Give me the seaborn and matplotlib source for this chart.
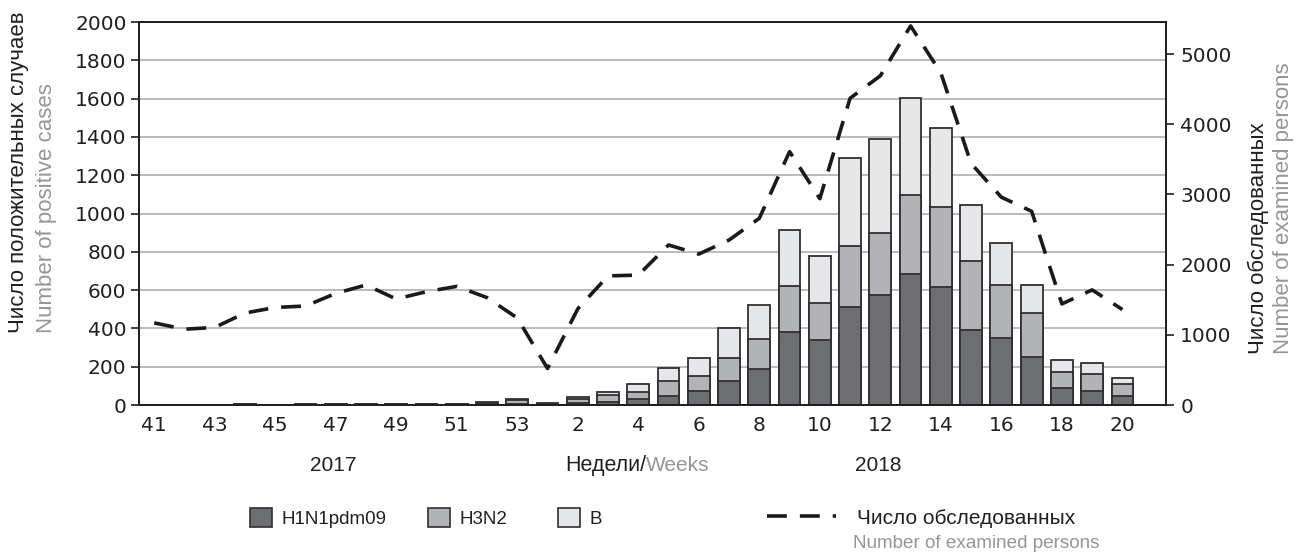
import matplotlib
matplotlib.use('Agg')
import matplotlib.pyplot as plt
import matplotlib.patches as mpatches
from matplotlib.lines import Line2D
import seaborn as sns
import numpy as np
import pandas as pd

# weeks 41-53 of 2017, then 1-20 of 2018
weeks = list(range(41, 54)) + list(range(1, 21))
h1n1 = [1, 1, 1, 2, 1, 2, 2, 3, 3, 4, 3, 8, 4, 3, 10, 15, 31, 49, 72, 124, 188,
        381, 341, 513, 574, 684, 618, 392, 351, 249, 90, 75, 49]
h3n2 = [1, 1, 1, 1, 1, 1, 1, 2, 2, 2, 2, 5, 22, 3, 22, 35, 35, 78, 79, 123, 155,
        242, 193, 317, 322, 413, 418, 362, 276, 233, 84, 87, 59]
flu_b = [0, 0, 0, 1, 0, 1, 1, 1, 1, 1, 1, 2, 4, 2, 12, 16, 42, 68, 93, 157, 179,
         291, 244, 460, 491, 504, 412, 292, 217, 145, 61, 59, 35]
examined = [1170, 1080, 1105, 1310, 1390, 1410, 1590, 1710, 1510, 1615, 1690,
            1530, 1240, 520, 1370, 1840, 1850, 2280, 2150, 2350, 2660, 3610,
            2940, 4370, 4690, 5400, 4730, 3440, 2960, 2760, 1440, 1640, 1360]
tick_weeks = [41, 43, 45, 47, 49, 51, 53, 2, 4, 6, 8, 10, 12, 14, 16, 18, 20]

df = pd.DataFrame({'week': [str(w) for w in weeks], 'h1n1': h1n1,
                   'h3n2': h3n2, 'b': flu_b, 'examined': examined})
df['pos'] = np.arange(len(df))
df['cum2'] = df['h1n1'] + df['h3n2']
df['total'] = df['cum2'] + df['b']

sns.set_style('white')
plt.rcParams['font.family'] = ['Liberation Sans', 'DejaVu Sans']

BLACK = '#231f20'
GREY_TXT = '#939598'
EDGE = '#303032'
c_h1n1, c_h3n2, c_b = '#6d6e71', '#b1b3b6', '#e6e7e8'

fig = plt.figure(figsize=(12.96, 5.53), dpi=100)
ax = fig.add_axes([0.1073, 0.2676, 0.7926, 0.6926])

order = df['week'].tolist()
bar_kw = dict(width=0.72, edgecolor=EDGE, linewidth=1.3, order=order, ax=ax)
sns.barplot(data=df, x='week', y='total', color=c_b, saturation=1, **bar_kw)
sns.barplot(data=df, x='week', y='cum2', color=c_h3n2, saturation=1, **bar_kw)
sns.barplot(data=df, x='week', y='h1n1', color=c_h1n1, saturation=1, **bar_kw)

ax.set_ylim(0, 2000)
ax.set_xlim(-0.5, 33.45)
ax.set_yticks(range(0, 2001, 200))
ax.yaxis.grid(True, color='#b5b5b5', linewidth=1.3)
ax.set_axisbelow(True)
ax.set_xlabel('')
ax.set_ylabel('')

tick_fs = 14.5
tick_pos = [weeks.index(w) for w in tick_weeks]
ax.set_xticks(tick_pos, [str(w) for w in tick_weeks])
ax.set_xticks(np.arange(-0.5, len(weeks), 1), minor=True)
ax.tick_params(axis='x', which='major', length=0, pad=8, labelsize=tick_fs, colors=BLACK)
ax.tick_params(axis='x', which='minor', length=6, width=1.2, color=BLACK, direction='out')
ax.tick_params(axis='y', length=6, width=1.2, color=BLACK, direction='out',
               labelsize=tick_fs, labelcolor=BLACK, pad=3)
for lab in ax.get_xticklabels() + ax.get_yticklabels():
    lab.set_family(['DejaVu Sans'])

ax2 = ax.twinx()
sns.lineplot(data=df, x='pos', y='examined', ax=ax2, color='#1a1a1a',
             linewidth=2.6, linestyle=(0, (5.5, 3.6)), legend=False)
ax2.set_ylim(0, 5456)
ax2.set_yticks(range(0, 5001, 1000))
ax2.set_xlim(-0.5, 33.45)
ax2.set_xlabel('')
ax2.set_ylabel('')
ax2.tick_params(axis='y', length=6, width=1.2, color=BLACK, direction='out',
                labelsize=tick_fs, labelcolor=BLACK, pad=4)
for lab in ax2.get_yticklabels():
    lab.set_family(['DejaVu Sans'])

for a in (ax, ax2):
    for sp in a.spines.values():
        sp.set_color(BLACK)
        sp.set_linewidth(1.3)
        sp.set_visible(True)

# axis titles
title_fs = 16
fig.text(0.0139, 0.398, 'Число положительных случаев', rotation=90,
         ha='center', va='bottom', fontsize=title_fs, color=BLACK)
fig.text(0.0355, 0.398, 'Number of positive cases', rotation=90,
         ha='center', va='bottom', fontsize=title_fs, color=GREY_TXT)
fig.text(0.9707, 0.360, 'Число обследованных', rotation=90,
         ha='center', va='bottom', fontsize=title_fs, color=BLACK)
fig.text(0.9900, 0.360, 'Number of examined persons', rotation=90,
         ha='center', va='bottom', fontsize=title_fs, color=GREY_TXT)

# year and weeks labels
fig.text(333 / 1296, 0.159, '2017', ha='center', va='center', fontsize=15, color=BLACK)
fig.text(878 / 1296, 0.159, '2018', ha='center', va='center', fontsize=15, color=BLACK)
fig.text(646 / 1296, 0.159, 'Недели/', ha='right', va='center', fontsize=15.5, color=BLACK)
fig.text(646 / 1296, 0.159, 'Weeks', ha='left', va='center', fontsize=15, color=GREY_TXT)

# legend
leg_y = 1 - 518 / 553
entries = [(mpatches.Patch(facecolor=c_h1n1, edgecolor=EDGE, linewidth=1.2), 'H1N1pdm09', 250),
           (mpatches.Patch(facecolor=c_h3n2, edgecolor=EDGE, linewidth=1.2), 'H3N2', 428),
           (mpatches.Patch(facecolor=c_b, edgecolor=EDGE, linewidth=1.2), 'B', 558)]
for handle, label, xpx in entries:
    fig.legend(handles=[handle], labels=[label], loc='center left',
               bbox_to_anchor=(xpx / 1296, leg_y), frameon=False, fontsize=13.5,
               handlelength=1.15, handleheight=1.2, handletextpad=0.55,
               borderpad=0, borderaxespad=0, labelcolor=BLACK)
line_h = Line2D([], [], color='#1a1a1a', linewidth=2.6, linestyle=(0, (5.5, 3.6)))
fig.legend(handles=[line_h], labels=['Число обследованных'], loc='center left',
           bbox_to_anchor=(767 / 1296, leg_y), frameon=False, fontsize=15,
           handlelength=3.3, handletextpad=1.0, borderpad=0, borderaxespad=0,
           labelcolor=BLACK)
fig.text(853 / 1296, 1 - 543 / 553, 'Number of examined persons', ha='left',
         va='center', fontsize=13.6, color=GREY_TXT)

fig.savefig('out.png', dpi=100)
